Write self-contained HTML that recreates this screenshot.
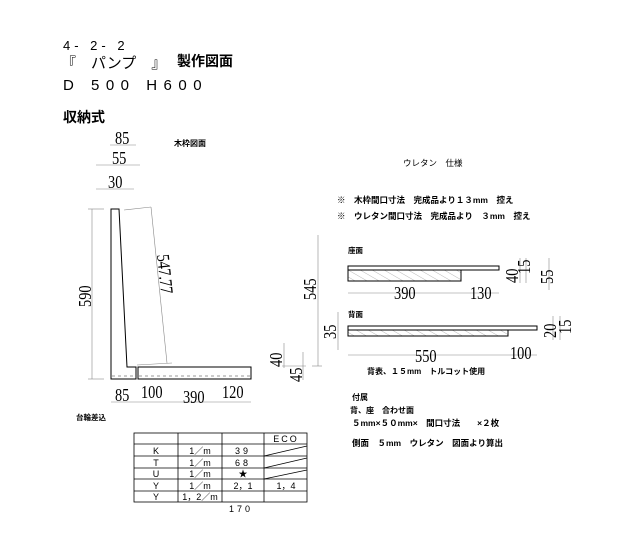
<!DOCTYPE html>
<html><head><meta charset="utf-8"><style>
body{margin:0;background:#fff}
svg{display:block}
.j{font-family:"Liberation Sans","Noto Sans CJK JP",sans-serif;fill:#000}
.d{font-family:"Liberation Serif",serif;font-size:18px;fill:#000}
.t{font-family:"Liberation Sans","Noto Sans CJK JP",sans-serif;font-size:9px;fill:#000;text-anchor:middle}
</style></head><body>
<svg width="640" height="553" viewBox="0 0 640 553" xmlns="http://www.w3.org/2000/svg">
<defs><pattern id="h" width="6" height="6" patternUnits="userSpaceOnUse" patternTransform="rotate(-60)"><line x1="0" y1="0" x2="0" y2="6" stroke="#999" stroke-width="0.7"/></pattern></defs>
<g class="j">
<text x="63" y="50" font-size="13" letter-spacing="4">4- 2- 2</text>
<text x="61" y="68" font-size="15">『　パンプ　』</text>
<text x="177" y="66" font-size="14" font-weight="bold">製作図面</text>
<text x="63" y="90" font-size="15" letter-spacing="6.5">D 500 H600</text>
<text x="63" y="122" font-size="14" font-weight="bold">収納式</text>
<text x="174" y="146" font-size="8" font-weight="bold">木枠図面</text>
<text x="403" y="166" font-size="8.5">ウレタン　仕様</text>
<text x="337" y="203" font-size="8.5" font-weight="bold">※　木枠間口寸法　完成品より１３mm　控え</text>
<text x="337" y="219" font-size="8.5" font-weight="bold">※　ウレタン間口寸法　完成品より　３mm　控え</text>
<text x="348" y="253" font-size="7.5" font-weight="bold">座面</text>
<text x="348" y="317" font-size="7.5" font-weight="bold">背面</text>
<text x="367" y="374" font-size="8" font-weight="bold">背表、１５mm　トルコット使用</text>
<text x="352" y="400" font-size="8" font-weight="bold">付属</text>
<text x="350" y="413" font-size="8" font-weight="bold">背、座　合わせ面</text>
<text x="352" y="426" font-size="8.5" font-weight="bold">５mm×５０mm×　間口寸法　　×２枚</text>
<text x="352" y="446" font-size="8.5" font-weight="bold">側面　５mm　ウレタン　図面より算出</text>
<text x="76" y="420" font-size="7.5" font-weight="bold">台輪差込</text>
</g>
<g fill="none" stroke="#000" stroke-width="1">
<polygon points="111,209 119,209 127,367 136,367 136,379 111,379" fill="#fff"/>
<rect x="138" y="367" width="113" height="12" fill="#fff"/>
<line x1="112" y1="376" x2="135" y2="376" stroke-dasharray="3,3" stroke="#777" stroke-width="0.7"/>
<line x1="139" y1="376" x2="250" y2="376" stroke-dasharray="3,3" stroke="#777" stroke-width="0.7"/>
<rect x="348" y="266" width="151" height="4" fill="#fff"/>
<rect x="348" y="270" width="113" height="11" fill="url(#h)"/>
<rect x="348" y="326" width="189" height="4" fill="#fff"/>
<rect x="348" y="330" width="160" height="6" fill="url(#h)"/>
</g>
<g stroke="#888" stroke-width="0.6" fill="none">
<line x1="92" y1="209" x2="92" y2="379"/><line x1="88" y1="209" x2="104" y2="209"/><line x1="88" y1="379" x2="104" y2="379"/>
<line x1="124" y1="210" x2="151" y2="207"/><line x1="151" y1="207" x2="167" y2="363"/><line x1="137" y1="365" x2="172" y2="363"/>
<line x1="110" y1="145" x2="136" y2="145"/>
<line x1="96" y1="165" x2="140" y2="165"/>
<line x1="96" y1="189" x2="134" y2="189"/>
<line x1="111" y1="402" x2="251" y2="402"/>
<line x1="318" y1="235" x2="318" y2="366"/><line x1="312" y1="366" x2="322" y2="366"/>
<line x1="284" y1="343" x2="284" y2="368"/><line x1="303" y1="352" x2="303" y2="380"/><line x1="282" y1="366" x2="306" y2="366"/>
<line x1="338" y1="312" x2="338" y2="350"/>
<line x1="348" y1="293" x2="499" y2="293"/>
<line x1="348" y1="355" x2="537" y2="355"/>
<line x1="520" y1="258" x2="520" y2="283"/><line x1="526" y1="258" x2="526" y2="283"/><line x1="549" y1="258" x2="549" y2="290"/>
<line x1="553" y1="316" x2="553" y2="340"/><line x1="560" y1="316" x2="560" y2="340"/>
</g>
<g class="d">
<text x="115" y="144" transform="translate(115 0) scale(0.8 1) translate(-115 0)">85</text>
<text x="112" y="164" transform="translate(112 0) scale(0.8 1) translate(-112 0)">55</text>
<text x="108" y="188" transform="translate(108 0) scale(0.8 1) translate(-108 0)">30</text>
<text transform="translate(91 307) rotate(-90) scale(0.8 1)">590</text>
<text transform="translate(157 255) rotate(84) scale(0.8 1)">547.77</text>
<text x="115" y="401" transform="translate(115 0) scale(0.8 1) translate(-115 0)">85</text>
<text x="141" y="398" transform="translate(141 0) scale(0.8 1) translate(-141 0)">100</text>
<text x="183" y="403" transform="translate(183 0) scale(0.8 1) translate(-183 0)">390</text>
<text x="222" y="398" transform="translate(222 0) scale(0.8 1) translate(-222 0)">120</text>
<text transform="translate(316 300) rotate(-90) scale(0.8 1)">545</text>
<text transform="translate(282 367) rotate(-90) scale(0.8 1)">40</text>
<text transform="translate(302 382) rotate(-90) scale(0.8 1)">45</text>
<text transform="translate(336 339) rotate(-90) scale(0.8 1)">35</text>
<text x="394" y="299" transform="translate(394 0) scale(0.8 1) translate(-394 0)">390</text>
<text x="470" y="299" transform="translate(470 0) scale(0.8 1) translate(-470 0)">130</text>
<text x="415" y="362" transform="translate(415 0) scale(0.8 1) translate(-415 0)">550</text>
<text x="510" y="359" transform="translate(510 0) scale(0.8 1) translate(-510 0)">100</text>
<text transform="translate(518 283) rotate(-90) scale(0.8 1)">40</text>
<text transform="translate(530 274) rotate(-90) scale(0.8 1)">15</text>
<text transform="translate(553 284) rotate(-90) scale(0.8 1)">55</text>
<text transform="translate(556 338) rotate(-90) scale(0.8 1)">20</text>
<text transform="translate(571 334) rotate(-90) scale(0.8 1)">15</text>
</g>
<g stroke="#000" stroke-width="0.8" fill="none">
<rect x="134" y="433" width="173" height="69"/>
<line x1="134" y1="444" x2="307" y2="444"/><line x1="134" y1="456" x2="307" y2="456"/><line x1="134" y1="468" x2="307" y2="468"/><line x1="134" y1="479" x2="307" y2="479"/><line x1="134" y1="491" x2="307" y2="491"/>
<line x1="178" y1="433" x2="178" y2="502"/><line x1="222" y1="433" x2="222" y2="502"/><line x1="264" y1="433" x2="264" y2="502"/>
<line x1="264" y1="456" x2="307" y2="446"/><line x1="264" y1="468" x2="307" y2="458"/><line x1="264" y1="479" x2="307" y2="470"/>
</g>
<g class="t">
<text x="286" y="442" letter-spacing="2">ECO</text>
<text x="156" y="454">K</text><text x="200" y="454">1／m</text><text x="243" y="454" letter-spacing="3">39</text>
<text x="156" y="466">T</text><text x="200" y="466">1／m</text><text x="243" y="466" letter-spacing="3">68</text>
<text x="156" y="477">U</text><text x="200" y="477">1／m</text><text x="243" y="477">★</text>
<text x="156" y="489">Y</text><text x="200" y="489">1／m</text><text x="243" y="489">2，1</text><text x="286" y="489">1，4</text>
<text x="156" y="500">Y</text><text x="200" y="500">1，2／m</text>
<text x="241" y="512" letter-spacing="3">170</text>
</g>
</svg>
</body></html>
